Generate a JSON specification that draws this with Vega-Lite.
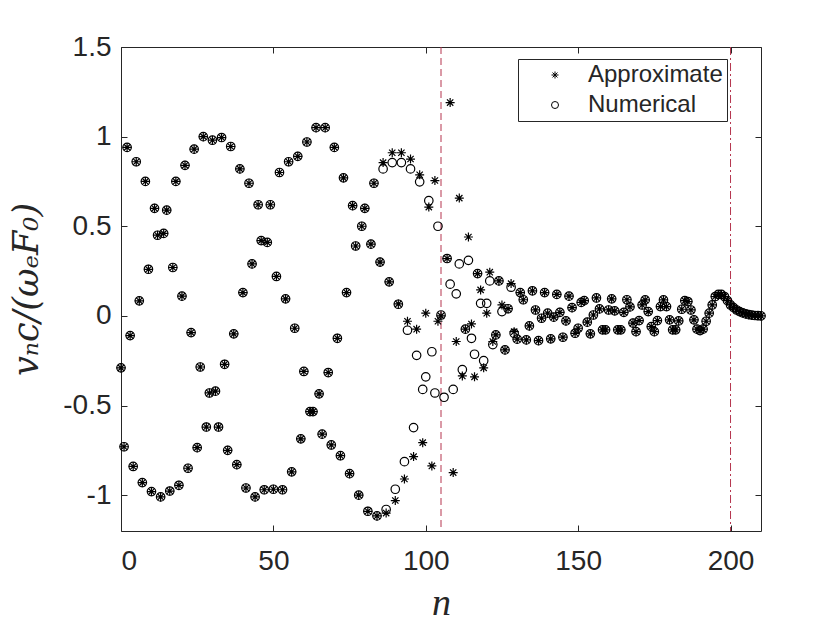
{
  "$schema": "https://vega.github.io/schema/vega-lite/v6.json",
  "description": "Approximate vs numerical v_n c/(omega_e F_0) against n",
  "width": 640,
  "height": 484,
  "autosize": "none",
  "padding": {"left": 121, "top": 47, "right": 79, "bottom": 99},
  "background": "white",
  "config": {
    "view": {"stroke": "#262626", "strokeWidth": 1},
    "axis": {
      "domain": false,
      "grid": false,
      "ticks": true,
      "tickColor": "#262626",
      "tickSize": -6,
      "labelFont": "Liberation Sans",
      "labelFontSize": 28,
      "labelColor": "#262626",
      "titleColor": "#262626",
      "titleFontStyle": "italic",
      "titleFontWeight": "normal"
    },
    "legend": {
      "orient": "none",
      "legendX": 397,
      "legendY": 12,
      "strokeColor": "#262626",
      "fillColor": "white",
      "padding": 4,
      "cornerRadius": 0,
      "labelFont": "Liberation Sans",
      "labelFontSize": 24,
      "labelColor": "#262626",
      "labelOffset": 21,
      "symbolOffset": 21,
      "rowPadding": 6,
      "symbolSize": 49,
      "symbolStrokeWidth": 1,
      "symbolStrokeColor": "black"
    }
  },
  "resolve": {"axis": {"x": "independent", "y": "independent"}},
  "datasets": {
    "approx": [
      {"n":0,"v":-0.29},{"n":1,"v":-0.73},{"n":2,"v":0.94},{"n":3,"v":-0.11},{"n":4,"v":-0.84},
      {"n":5,"v":0.86},{"n":6,"v":0.084},{"n":7,"v":-0.93},{"n":8,"v":0.75},{"n":9,"v":0.26},
      {"n":10,"v":-0.98},{"n":11,"v":0.6},{"n":12,"v":0.45},{"n":13,"v":-1.01},{"n":14,"v":0.46},
      {"n":15,"v":0.59},{"n":16,"v":-0.977},{"n":17,"v":0.27},{"n":18,"v":0.75},{"n":19,"v":-0.945},
      {"n":20,"v":0.11},{"n":21,"v":0.84},{"n":22,"v":-0.85},{"n":23,"v":-0.093},{"n":24,"v":0.93},
      {"n":25,"v":-0.735},{"n":26,"v":-0.285},{"n":27,"v":1.0},{"n":28,"v":-0.62},{"n":29,"v":-0.43},
      {"n":30,"v":0.98},{"n":31,"v":-0.42},{"n":32,"v":-0.62},{"n":33,"v":0.995},{"n":34,"v":-0.27},
      {"n":35,"v":-0.75},{"n":36,"v":0.945},{"n":37,"v":-0.1},{"n":38,"v":-0.83},{"n":39,"v":0.82},
      {"n":40,"v":0.13},{"n":41,"v":-0.96},{"n":42,"v":0.74},{"n":43,"v":0.29},{"n":44,"v":-1.01},
      {"n":45,"v":0.62},{"n":46,"v":0.42},{"n":47,"v":-0.97},{"n":48,"v":0.41},{"n":49,"v":0.62},
      {"n":50,"v":-0.967},{"n":51,"v":0.22},{"n":52,"v":0.8},{"n":53,"v":-0.97},{"n":54,"v":0.095},
      {"n":55,"v":0.86},{"n":56,"v":-0.87},{"n":57,"v":-0.069},{"n":58,"v":0.89},{"n":59,"v":-0.686},
      {"n":60,"v":-0.31},{"n":61,"v":0.97},{"n":62,"v":-0.534},{"n":63,"v":-0.534},{"n":64,"v":1.05},
      {"n":65,"v":-0.435},{"n":66,"v":-0.66},{"n":67,"v":1.05},{"n":68,"v":-0.316},{"n":69,"v":-0.72},
      {"n":70,"v":0.94},{"n":71,"v":-0.125},{"n":72,"v":-0.78},{"n":73,"v":0.77},{"n":74,"v":0.13},
      {"n":75,"v":-0.88},{"n":76,"v":0.615},{"n":77,"v":0.39},{"n":78,"v":-1.0},{"n":79,"v":0.5},
      {"n":80,"v":0.6},{"n":81,"v":-1.09},{"n":82,"v":0.4},{"n":83,"v":0.74},{"n":84,"v":-1.116},
      {"n":85,"v":0.3},{"n":86,"v":0.855},{"n":87,"v":-1.1},{"n":88,"v":0.19},{"n":89,"v":0.91},
      {"n":90,"v":-1.03},{"n":91,"v":0.067},{"n":92,"v":0.91},{"n":93,"v":-0.91},{"n":94,"v":-0.03},
      {"n":95,"v":0.875},{"n":96,"v":-0.785},{"n":97,"v":-0.074},{"n":98,"v":0.787},{"n":99,"v":-0.707},
      {"n":100,"v":0.015},{"n":101,"v":0.607},{"n":102,"v":-0.837},{"n":103,"v":0.755},{"n":104,"v":-0.03},
      {"n":105,"v":0.0},{"n":107,"v":0.32},{"n":108,"v":1.19},{"n":109,"v":-0.874},
      {"n":110,"v":-0.143},{"n":111,"v":0.657},{"n":112,"v":-0.335},{"n":113,"v":-0.074},{"n":114,"v":0.44},
      {"n":115,"v":-0.045},{"n":116,"v":-0.34},{"n":117,"v":0.236},{"n":118,"v":0.145},{"n":119,"v":-0.29},
      {"n":120,"v":0.015},{"n":121,"v":0.244},{"n":122,"v":-0.143},{"n":123,"v":-0.106},{"n":124,"v":0.195},
      {"n":125,"v":0.061},{"n":126,"v":-0.19},{"n":127,"v":0.04},{"n":128,"v":0.18},{"n":129,"v":-0.088},
      {"n":130,"v":-0.13},{"n":131,"v":0.13},{"n":132,"v":0.09},{"n":133,"v":-0.134},{"n":134,"v":-0.056},
      {"n":135,"v":0.14},{"n":136,"v":0.033},{"n":137,"v":-0.138},{"n":138,"v":-0.013},{"n":139,"v":0.13},
      {"n":140,"v":0.015},{"n":141,"v":-0.128},{"n":142,"v":-0.007},{"n":143,"v":0.12},{"n":144,"v":0.02},
      {"n":145,"v":-0.119},{"n":146,"v":-0.028},{"n":147,"v":0.11},{"n":148,"v":0.046},{"n":149,"v":-0.097},
      {"n":150,"v":-0.069},{"n":151,"v":0.075},{"n":152,"v":0.085},{"n":153,"v":-0.035},{"n":154,"v":-0.1},
      {"n":155,"v":0.005},{"n":156,"v":0.1},{"n":157,"v":0.039},{"n":158,"v":-0.078},{"n":159,"v":-0.078},
      {"n":160,"v":0.033},{"n":161,"v":0.095},{"n":162,"v":0.028},{"n":163,"v":-0.078},{"n":164,"v":-0.078},
      {"n":165,"v":0.02},{"n":166,"v":0.09},{"n":167,"v":0.05},{"n":168,"v":-0.04},{"n":169,"v":-0.088},
      {"n":170,"v":-0.026},{"n":171,"v":0.061},{"n":172,"v":0.089},{"n":173,"v":0.024},{"n":174,"v":-0.06},
      {"n":175,"v":-0.088},{"n":176,"v":-0.026},{"n":177,"v":0.052},{"n":178,"v":0.089},{"n":179,"v":0.052},
      {"n":180,"v":-0.022},{"n":181,"v":-0.078},{"n":182,"v":-0.078},{"n":183,"v":-0.028},{"n":184,"v":0.037},
      {"n":185,"v":0.085},{"n":186,"v":0.08},{"n":187,"v":0.033},{"n":188,"v":-0.022},{"n":189,"v":-0.074},
      {"n":190,"v":-0.082},{"n":191,"v":-0.074},{"n":192,"v":-0.03},{"n":193,"v":0.015},{"n":194,"v":0.061},
      {"n":195,"v":0.108},{"n":196,"v":0.12},{"n":197,"v":0.12},{"n":198,"v":0.108},{"n":199,"v":0.085},
      {"n":200,"v":0.061},{"n":201,"v":0.046},{"n":202,"v":0.033},{"n":203,"v":0.024},{"n":204,"v":0.017},
      {"n":205,"v":0.011},{"n":206,"v":0.007},{"n":207,"v":0.004},{"n":208,"v":0.002},{"n":209,"v":0.001},
      {"n":210,"v":0.0}
    ],
    "numer": [
      {"n":0,"v":-0.29},{"n":1,"v":-0.73},{"n":2,"v":0.94},{"n":3,"v":-0.11},{"n":4,"v":-0.84},
      {"n":5,"v":0.86},{"n":6,"v":0.084},{"n":7,"v":-0.93},{"n":8,"v":0.75},{"n":9,"v":0.26},
      {"n":10,"v":-0.98},{"n":11,"v":0.6},{"n":12,"v":0.45},{"n":13,"v":-1.01},{"n":14,"v":0.46},
      {"n":15,"v":0.59},{"n":16,"v":-0.977},{"n":17,"v":0.27},{"n":18,"v":0.75},{"n":19,"v":-0.945},
      {"n":20,"v":0.11},{"n":21,"v":0.84},{"n":22,"v":-0.85},{"n":23,"v":-0.093},{"n":24,"v":0.93},
      {"n":25,"v":-0.735},{"n":26,"v":-0.285},{"n":27,"v":1.0},{"n":28,"v":-0.62},{"n":29,"v":-0.43},
      {"n":30,"v":0.98},{"n":31,"v":-0.42},{"n":32,"v":-0.62},{"n":33,"v":0.995},{"n":34,"v":-0.27},
      {"n":35,"v":-0.75},{"n":36,"v":0.945},{"n":37,"v":-0.1},{"n":38,"v":-0.83},{"n":39,"v":0.82},
      {"n":40,"v":0.13},{"n":41,"v":-0.96},{"n":42,"v":0.74},{"n":43,"v":0.29},{"n":44,"v":-1.01},
      {"n":45,"v":0.62},{"n":46,"v":0.42},{"n":47,"v":-0.97},{"n":48,"v":0.41},{"n":49,"v":0.62},
      {"n":50,"v":-0.967},{"n":51,"v":0.22},{"n":52,"v":0.8},{"n":53,"v":-0.97},{"n":54,"v":0.095},
      {"n":55,"v":0.86},{"n":56,"v":-0.87},{"n":57,"v":-0.069},{"n":58,"v":0.89},{"n":59,"v":-0.686},
      {"n":60,"v":-0.31},{"n":61,"v":0.97},{"n":62,"v":-0.534},{"n":63,"v":-0.534},{"n":64,"v":1.05},
      {"n":65,"v":-0.435},{"n":66,"v":-0.66},{"n":67,"v":1.05},{"n":68,"v":-0.316},{"n":69,"v":-0.72},
      {"n":70,"v":0.94},{"n":71,"v":-0.125},{"n":72,"v":-0.78},{"n":73,"v":0.77},{"n":74,"v":0.13},
      {"n":75,"v":-0.88},{"n":76,"v":0.615},{"n":77,"v":0.39},{"n":78,"v":-1.0},{"n":79,"v":0.5},
      {"n":80,"v":0.6},{"n":81,"v":-1.09},{"n":82,"v":0.4},{"n":83,"v":0.74},{"n":84,"v":-1.116},
      {"n":85,"v":0.3},{"n":86,"v":0.82},{"n":87,"v":-1.08},{"n":88,"v":0.19},{"n":89,"v":0.855},
      {"n":90,"v":-0.967},{"n":91,"v":0.065},{"n":92,"v":0.855},{"n":93,"v":-0.813},{"n":94,"v":-0.08},
      {"n":95,"v":0.82},{"n":96,"v":-0.623},{"n":97,"v":-0.22},{"n":98,"v":0.748},{"n":99,"v":-0.41},
      {"n":100,"v":-0.34},{"n":101,"v":0.643},{"n":102,"v":-0.2},{"n":103,"v":-0.43},{"n":104,"v":0.5},
      {"n":105,"v":0.005},{"n":106,"v":-0.454},{"n":107,"v":0.32},{"n":108,"v":0.177},{"n":109,"v":-0.41},
      {"n":110,"v":0.123},{"n":111,"v":0.29},{"n":112,"v":-0.3},{"n":113,"v":-0.074},{"n":114,"v":0.31},
      {"n":115,"v":-0.125},{"n":116,"v":-0.214},{"n":117,"v":0.236},{"n":118,"v":0.07},{"n":119,"v":-0.25},
      {"n":120,"v":0.07},{"n":121,"v":0.195},{"n":122,"v":-0.16},{"n":123,"v":-0.106},{"n":124,"v":0.195},
      {"n":125,"v":0.024},{"n":126,"v":-0.19},{"n":127,"v":0.04},{"n":128,"v":0.16},{"n":129,"v":-0.097},
      {"n":130,"v":-0.13},{"n":131,"v":0.13},{"n":132,"v":0.09},{"n":133,"v":-0.134},{"n":134,"v":-0.056},
      {"n":135,"v":0.14},{"n":136,"v":0.033},{"n":137,"v":-0.138},{"n":138,"v":-0.013},{"n":139,"v":0.13},
      {"n":140,"v":0.015},{"n":141,"v":-0.128},{"n":142,"v":-0.007},{"n":143,"v":0.12},{"n":144,"v":0.02},
      {"n":145,"v":-0.119},{"n":146,"v":-0.028},{"n":147,"v":0.11},{"n":148,"v":0.046},{"n":149,"v":-0.097},
      {"n":150,"v":-0.069},{"n":151,"v":0.075},{"n":152,"v":0.085},{"n":153,"v":-0.035},{"n":154,"v":-0.1},
      {"n":155,"v":0.005},{"n":156,"v":0.1},{"n":157,"v":0.039},{"n":158,"v":-0.078},{"n":159,"v":-0.078},
      {"n":160,"v":0.033},{"n":161,"v":0.095},{"n":162,"v":0.028},{"n":163,"v":-0.078},{"n":164,"v":-0.078},
      {"n":165,"v":0.02},{"n":166,"v":0.09},{"n":167,"v":0.05},{"n":168,"v":-0.04},{"n":169,"v":-0.088},
      {"n":170,"v":-0.026},{"n":171,"v":0.061},{"n":172,"v":0.089},{"n":173,"v":0.024},{"n":174,"v":-0.06},
      {"n":175,"v":-0.088},{"n":176,"v":-0.026},{"n":177,"v":0.052},{"n":178,"v":0.089},{"n":179,"v":0.052},
      {"n":180,"v":-0.022},{"n":181,"v":-0.078},{"n":182,"v":-0.078},{"n":183,"v":-0.028},{"n":184,"v":0.037},
      {"n":185,"v":0.085},{"n":186,"v":0.08},{"n":187,"v":0.033},{"n":188,"v":-0.022},{"n":189,"v":-0.074},
      {"n":190,"v":-0.082},{"n":191,"v":-0.074},{"n":192,"v":-0.03},{"n":193,"v":0.015},{"n":194,"v":0.061},
      {"n":195,"v":0.108},{"n":196,"v":0.12},{"n":197,"v":0.12},{"n":198,"v":0.108},{"n":199,"v":0.085},
      {"n":200,"v":0.061},{"n":201,"v":0.046},{"n":202,"v":0.033},{"n":203,"v":0.024},{"n":204,"v":0.017},
      {"n":205,"v":0.011},{"n":206,"v":0.007},{"n":207,"v":0.004},{"n":208,"v":0.002},{"n":209,"v":0.001},
      {"n":210,"v":0.0}
    ]
  },
  "layer": [
    {
      "data": {"values": [{"n": 105}]},
      "mark": {"type": "rule", "stroke": "#B5354F", "strokeWidth": 1, "strokeDash": [7, 4]},
      "encoding": {
        "x": {
          "field": "n",
          "type": "quantitative",
          "scale": {"domain": [0, 210], "nice": false},
          "axis": {"orient": "top", "values": [0, 50, 100, 150, 200], "labels": false, "title": null}
        }
      }
    },
    {
      "data": {"values": [{"n": 200}]},
      "mark": {"type": "rule", "stroke": "#B5354F", "strokeWidth": 1, "strokeDash": [8, 3, 2, 3]},
      "encoding": {
        "x": {"field": "n", "type": "quantitative", "axis": null}
      }
    },
    {
      "data": {"name": "approx"},
      "mark": {"type": "point", "filled": false, "color": "black", "opacity": 1, "strokeWidth": 1.2, "size": 81},
      "encoding": {
        "x": {
          "field": "n",
          "type": "quantitative",
          "title": "n",
          "axis": {
            "values": [0, 50, 100, 150, 200],
            "labelPadding": 22,
            "titleFont": "Liberation Serif",
            "titleFontSize": 38,
            "titlePadding": 9
          }
        },
        "y": {
          "field": "v",
          "type": "quantitative",
          "title": "vₙc/(ωₑF₀)",
          "scale": {"domain": [-1.2, 1.5], "nice": false, "zero": false},
          "axis": {
            "values": [-1, -0.5, 0, 0.5, 1, 1.5],
            "labelExpr": "'' + datum.value",
            "labelPadding": 16,
            "titleFont": "DejaVu Serif",
            "titleFontSize": 35,
            "titlePadding": 18
          }
        },
        "shape": {
          "datum": "Approximate",
          "scale": {
            "domain": ["Approximate", "Numerical"],
            "range": ["M-1,0L1,0M0,-1L0,1M-0.7,-0.7L0.7,0.7M-0.7,0.7L0.7,-0.7", "circle"]
          },
          "legend": {"title": null}
        }
      }
    },
    {
      "data": {"name": "numer"},
      "mark": {"type": "point", "filled": false, "color": "black", "opacity": 1, "strokeWidth": 1.2, "size": 72},
      "encoding": {
        "x": {"field": "n", "type": "quantitative", "axis": null},
        "y": {
          "field": "v",
          "type": "quantitative",
          "axis": {"orient": "right", "values": [-1, -0.5, 0, 0.5, 1, 1.5], "labels": false, "title": null}
        },
        "shape": {"datum": "Numerical"}
      }
    }
  ]
}
